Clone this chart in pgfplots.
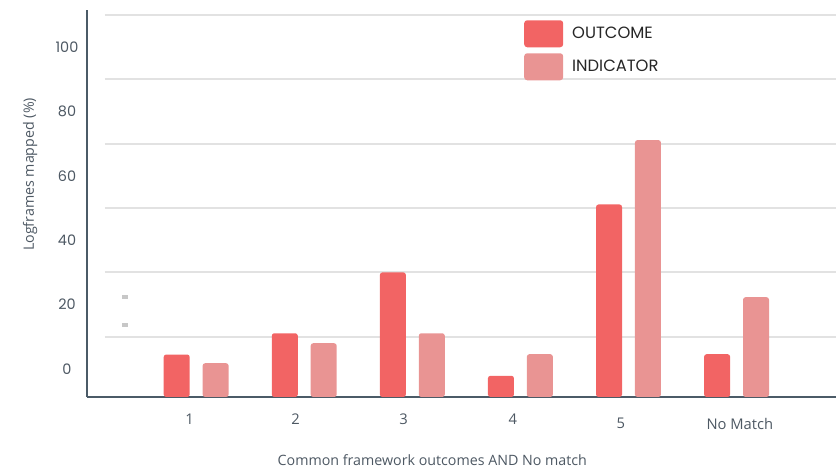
\documentclass[border=0pt]{standalone}
\usepackage{fontspec}
\setmainfont{Open Sans}
\newfontfamily\geo{Poppins}
\usepackage{pgfplots}
\pgfplotsset{compat=1.18}

\definecolor{outc}{HTML}{F26464}
\definecolor{indc}{HTML}{E99493}
\definecolor{axc}{HTML}{4B5B67}
\definecolor{txt}{HTML}{4D5863}
\definecolor{gridc}{HTML}{E2E2E2}

% values as read on the chart's own scale (0 label sits above the baseline)
\pgfplotstableread{
x outcome indicator
0 4.5 1.8
1 11.1 8.0
2 30.0 11.1
3 -2.1 4.6
4 51.1 71.1
5 4.6 22.3
}\logframes

\begin{document}
\begin{tikzpicture}
\useasboundingbox (0,0) rectangle (836bp,469bp);
\begin{axis}[
    at={(87bp,72bp)}, anchor=south west,
    scale only axis, width=749bp, height=387bp,
    xmin=-1.01, xmax=5.92,
    ymin=0, ymax=120.2,
    y filter/.expression={y+8.7},
    ybar, bar width=0.24,
    ytick={8.7,28.7,48.7,68.7,88.7,108.7},
    yticklabels={0,20,40,60,80,100},
    xtick={-0.06,0.92,1.92,2.93,3.93,5.03},
    xticklabels={1,2,3,4,5,No Match},
    major tick length=0,
    axis x line*=bottom, axis y line*=left,
    axis line style={draw=axc, line width=2.6bp, -},
    yticklabel style={anchor=center, xshift=-20bp, font=\geo\fontsize{14.5}{16}\selectfont, text=txt},
    xticklabel style={anchor=center, yshift={-22bp-4.5bp*(\ticknum>3)}, font=\fontsize{14.8}{16}\selectfont, text=txt},
    xlabel={Common framework outcomes AND No match},
    ylabel={Logframes mapped (\%)},
    xlabel style={at={(axis description cs:0.461,-0.164)}, anchor=center, font=\fontsize{14.3}{16}\selectfont, text=txt},
    ylabel style={at={(axis description cs:-0.076,0.575)}, anchor=center, rotate=0, font=\fontsize{14.3}{16}\selectfont, text=txt},
    legend style={at={(axis description cs:0.5834,0.974)}, anchor=north west,
        draw=none, fill=none, inner sep=0pt, row sep=6bp, column sep=9bp,
        font=\geo\fontsize{16.4}{18}\selectfont, text=black!85,
        nodes={inner sep=0pt, anchor=west}},
    legend image code/.code={\fill[#1, draw=none, rounded corners=3bp] (0bp,-13.5bp) rectangle (39bp,13.5bp);},
]
\pgfplotsinvokeforeach{18.7,38.7,58.7,78.7,98.7,118.7}{
  \draw[gridc, line width=2bp] (axis cs:-0.847,#1) -- (axis cs:5.92,#1);
}
\fill[black!22] (axis cs:-0.69,30.3) rectangle (axis cs:-0.635,31.8);
\fill[black!22] (axis cs:-0.69,21.6) rectangle (axis cs:-0.635,23.1);

\addplot[fill=outc, draw=none, bar shift=-0.18, rounded corners=2.5bp] table[x=x, y=outcome] {\logframes};
\addlegendentry{OUTCOME}
\addplot[fill=indc, draw=none, bar shift=0.18, rounded corners=2.5bp] table[x=x, y=indicator] {\logframes};
\addlegendentry{INDICATOR}
\end{axis}
\end{tikzpicture}
\end{document}
